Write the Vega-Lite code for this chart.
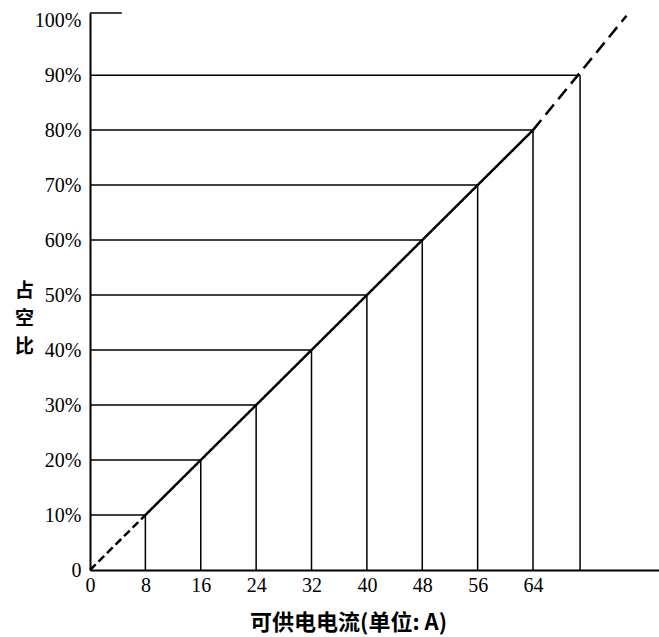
{
  "$schema": "https://vega.github.io/schema/vega-lite/v6.json",
  "autosize": "none",
  "width": 569,
  "height": 557,
  "padding": {"left": 90, "top": 13, "right": 0, "bottom": 67},
  "background": "white",
  "config": {"view": {"stroke": null}},
  "datasets": {
    "pts": [
      {"x": 8, "y": 10}, {"x": 16, "y": 20}, {"x": 24, "y": 30}, {"x": 32, "y": 40},
      {"x": 40, "y": 50}, {"x": 48, "y": 60}, {"x": 56, "y": 70}, {"x": 64, "y": 80},
      {"x": 70.8, "y": 90}
    ],
    "frame": [{"x": 4.6, "y": 101.3}],
    "diag": [
      {"x": 0, "y": 0, "seg": "a"}, {"x": 8, "y": 10, "seg": "a"},
      {"x": 8, "y": 10, "seg": "b"}, {"x": 64, "y": 80, "seg": "b"},
      {"x": 64, "y": 80, "seg": "c"}, {"x": 77.5, "y": 100.8, "seg": "c"}
    ]
  },
  "layer": [
    {
      "data": {"name": "pts"},
      "mark": {"type": "rule", "color": "black", "strokeWidth": 1.5},
      "encoding": {
        "x": {
          "field": "x", "type": "quantitative",
          "scale": {"domain": [0, 82.2], "nice": false, "zero": true},
          "axis": {
            "values": [0, 8, 16, 24, 32, 40, 48, 56, 64],
            "title": "可供电电流(单位: A)",
            "titleFont": "Noto Sans CJK SC", "titleFontSize": 22, "titleFontWeight": "bold",
            "titleColor": "black",
            "titleX": 258, "titleY": 52, "titleAlign": "center", "titleBaseline": "middle",
            "labelFont": "Liberation Serif", "labelFontSize": 20, "labelColor": "black",
            "labelPadding": 5, "labelFlush": false, "labelOverlap": false,
            "ticks": false, "grid": false,
            "domainColor": "black", "domainWidth": 2
          }
        },
        "y": {
          "field": "y", "type": "quantitative",
          "scale": {"domain": [0, 101.3], "nice": false, "zero": true},
          "axis": {
            "values": [0, 10, 20, 30, 40, 50, 60, 70, 80, 90, 100],
            "labelExpr": "datum.value == 0 ? '0' : datum.value + '%'",
            "title": ["占", "空", "比"],
            "titleFont": "Noto Sans CJK SC", "titleFontSize": 19, "titleFontWeight": "bold",
            "titleColor": "black", "titleAngle": 0, "titleLineHeight": 28,
            "titleX": -66, "titleY": 268, "titleAlign": "center", "titleBaseline": "top",
            "labelFont": "Liberation Serif", "labelFontSize": 20, "labelColor": "black",
            "labelPadding": 9, "labelFlush": false, "labelOverlap": false,
            "ticks": false, "grid": false,
            "domainColor": "black", "domainWidth": 2
          }
        },
        "y2": {"datum": 0}
      }
    },
    {
      "data": {"name": "pts"},
      "mark": {"type": "rule", "color": "black", "strokeWidth": 1.5},
      "encoding": {
        "x": {"field": "x", "type": "quantitative"},
        "x2": {"datum": 0},
        "y": {"field": "y", "type": "quantitative"}
      }
    },
    {
      "data": {"name": "frame"},
      "mark": {"type": "rule", "color": "black", "strokeWidth": 1.5},
      "encoding": {
        "x": {"field": "x", "type": "quantitative"},
        "x2": {"datum": 0},
        "y": {"field": "y", "type": "quantitative"}
      }
    },
    {
      "data": {"name": "diag"},
      "mark": {"type": "line", "color": "black", "strokeWidth": 2.5},
      "encoding": {
        "x": {"field": "x", "type": "quantitative"},
        "y": {"field": "y", "type": "quantitative"},
        "detail": {"field": "seg", "type": "nominal"},
        "strokeDash": {
          "field": "seg", "type": "nominal",
          "scale": {"domain": ["a", "b", "c"], "range": [[8, 4], [1, 0], [13, 7]]},
          "legend": null
        }
      }
    }
  ]
}
